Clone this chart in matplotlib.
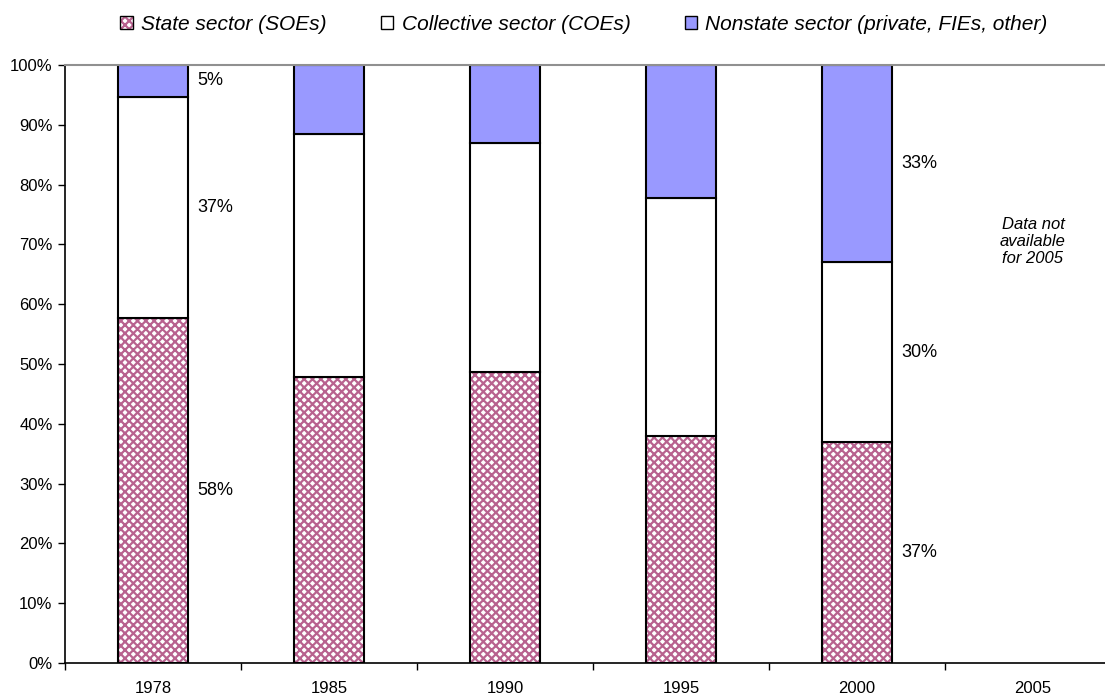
import numpy as np
import matplotlib.pyplot as plt
from matplotlib.patches import Patch
from matplotlib.legend_handler import HandlerTuple

plt.rcParams['font.family'] = ['Liberation Sans', 'DejaVu Sans']
plt.rcParams['hatch.linewidth'] = 1.6

years = ['1978', '1985', '1990', '1995', '2000', '2005']
state = [0.577, 0.478, 0.487, 0.380, 0.370]
collective = [0.370, 0.406, 0.382, 0.398, 0.300]
nonstate = [0.053, 0.116, 0.131, 0.222, 0.330]
series_names = ['State sector (SOEs)', 'Collective sector (COEs)',
                'Nonstate sector (private, FIEs, other)']
# labels shown beside the first and last bars
labelled = {0: ['58%', '37%', '5%'], 4: ['37%', '30%', '33%']}

W, H = 1105, 696
fig = plt.figure(figsize=(W / 100, H / 100), dpi=100)
# plot area runs past the right edge of the figure
ax = fig.add_axes([65 / W, 33 / H, (1121 - 65) / W, 598 / H])

x = np.arange(len(state))
bw = 0.40
pink = '#b8628f'

# hatched state bars: pattern layer then black outline
ax.bar(x, state, bw, color='white', edgecolor=pink, hatch='xxxx', linewidth=0)
ax.bar(x, state, bw, color='none', edgecolor='black', linewidth=1.5)
ax.bar(x, collective, bw, bottom=state, color='white', edgecolor='black',
       linewidth=1.5)
bottom2 = np.array(state) + np.array(collective)
ax.bar(x, nonstate, bw, bottom=bottom2, color='#9999ff', edgecolor='black',
       linewidth=1.5)

for i, labs in labelled.items():
    lows = [0, state[i], bottom2[i]]
    highs = [state[i], bottom2[i], 1.0]
    for lab, lo, hi in zip(labs, lows, highs):
        ax.text(i + bw / 2 + 0.05, (lo + hi) / 2, lab, fontsize=13,
                ha='left', va='center')

ax.text(5, 0.705, 'Data not\navailable\nfor 2005', style='italic', fontsize=12,
        ha='center', va='center', linespacing=1.2)

ax.set_xlim(-0.5, 5.5)
ax.set_ylim(0, 1)
yt = np.arange(0, 1.01, 0.1)
ax.set_yticks(yt)
ax.set_yticklabels([f'{int(round(v * 100))}%' for v in yt], fontsize=12)
ax.set_xticks(np.arange(len(years)))
ax.set_xticklabels(years, fontsize=12)
ax.set_xticks(np.arange(-0.5, 6.0, 1), minor=True)
ax.tick_params(axis='x', which='major', length=0, pad=13)
ax.tick_params(axis='x', which='minor', length=5, width=1, direction='out')
ax.tick_params(axis='y', length=5, width=1, direction='out', pad=4)

ax.spines['right'].set_visible(False)
ax.spines['top'].set_color('#909090')
ax.spines['top'].set_linewidth(1.5)
ax.spines['left'].set_linewidth(1.2)
ax.spines['bottom'].set_linewidth(1.2)

# hatched legend key gets a black outline drawn on top
handles = [
    (Patch(facecolor='white', edgecolor=pink, hatch='xxxx', linewidth=0),
     Patch(facecolor='none', edgecolor='black')),
    Patch(facecolor='white', edgecolor='black'),
    Patch(facecolor='#9999ff', edgecolor='black'),
]
fig.legend(handles, series_names, loc='center', bbox_to_anchor=(584 / W, 1 - 24 / H),
           ncol=3, frameon=False, prop={'style': 'italic', 'size': 15},
           handlelength=0.6, handleheight=0.6, handletextpad=0.4, columnspacing=2.6,
           handler_map={tuple: HandlerTuple(ndivide=1, pad=0)})

fig.savefig('out.png', dpi=100)
